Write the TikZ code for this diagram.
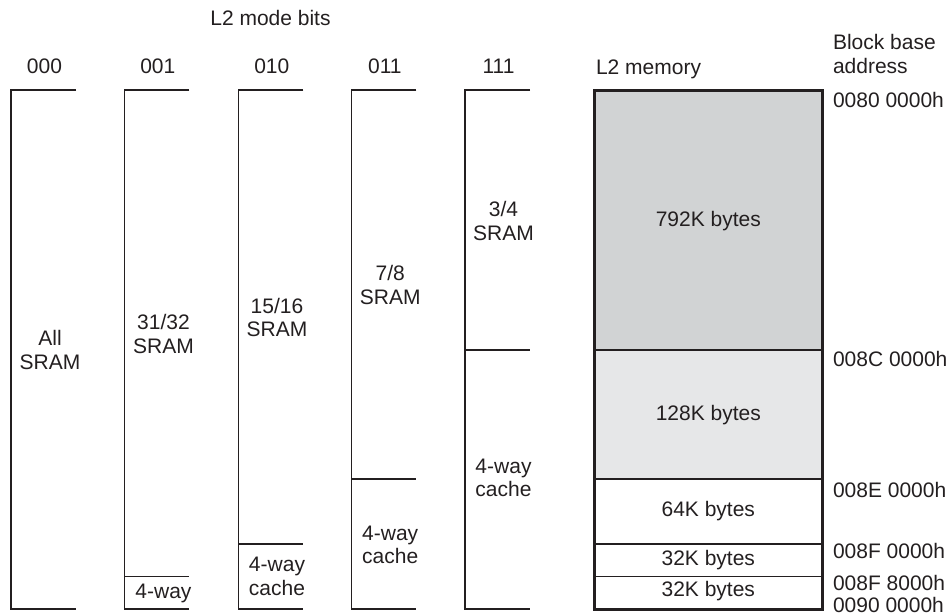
\documentclass[tikz,border=0pt]{standalone}
\usepackage{fontspec}
\setmainfont{Liberation Sans}
\definecolor{ink}{HTML}{231F20}
\definecolor{darkfill}{HTML}{D1D3D4}
\definecolor{lightfill}{HTML}{E6E7E8}
\begin{document}
\begin{tikzpicture}[x=1pt,y=-1pt,
  lbl/.style={inner sep=0pt,outer sep=0pt,text=ink,font=\fontsize{21}{24}\selectfont},
  thinline/.style={draw=ink,line width=1.3pt},
  thickline/.style={draw=ink,line width=3pt}]
\useasboundingbox (0,0) rectangle (948,615);

% ---- column outlines ----
\foreach \cx in {11,124.3,238.3,351.4,465}{
  \draw[thinline] (\cx+65,90) -- (\cx,90) -- (\cx,609) -- (\cx+65,609);
}
% dividers
\draw[thinline] (124.3,576.5) -- (189.3,576.5);
\draw[thinline] (238.3,544) -- (303.3,544);
\draw[thinline] (351.4,479) -- (416.4,479);
\draw[thinline] (465,350) -- (530,350);

% ---- L2 memory block ----
\fill[darkfill] (594,90.5) rectangle (822.5,350);
\fill[lightfill] (594,350) rectangle (822.5,479);
\draw[thinline] (594,350) -- (822.5,350);
\draw[thinline] (594,479) -- (822.5,479);
\draw[thinline] (594,544) -- (822.5,544);
\draw[thinline] (594,576.5) -- (822.5,576.5);
\draw[thickline] (594,90.5) rectangle (822.5,609.3);

% ---- headings ----
\node[lbl,anchor=base] (modebits) at (270.5,26) {L2 mode bits};
\node[lbl,anchor=base] (h000) at (44.5,74) {000};
\node[lbl,anchor=base] (h001) at (157.8,74) {001};
\node[lbl,anchor=base] (h010) at (271.8,74) {010};
\node[lbl,anchor=base] (h011) at (384.9,74) {011};
\node[lbl,anchor=base] (h111) at (498.5,74) {111};
\node[lbl,anchor=base west] (l2mem) at (596,75) {L2 memory};
\node[lbl,anchor=base west] (blk1) at (833,50) {Block base};
\node[lbl,anchor=base west] (blk2) at (833,74) {address};

% ---- column contents ----
\node[lbl,anchor=base] (c0a) at (50,345) {All};
\node[lbl,anchor=base] (c0b) at (50,369) {SRAM};
\node[lbl,anchor=base] (c1a) at (163.5,329.3) {31/32};
\node[lbl,anchor=base] (c1b) at (163.5,353.3) {SRAM};
\node[lbl,anchor=base] (c1c) at (163.5,598) {4-way};
\node[lbl,anchor=base] (c2a) at (277,313.3) {15/16};
\node[lbl,anchor=base] (c2b) at (277,336.7) {SRAM};
\node[lbl,anchor=base] (c2c) at (277,571.5) {4-way};
\node[lbl,anchor=base] (c2d) at (277,595) {cache};
\node[lbl,anchor=base] (c3a) at (390.2,280.7) {7/8};
\node[lbl,anchor=base] (c3b) at (390.2,304.3) {SRAM};
\node[lbl,anchor=base] (c3c) at (390.2,540) {4-way};
\node[lbl,anchor=base] (c3d) at (390.2,563) {cache};
\node[lbl,anchor=base] (c4a) at (503.5,216) {3/4};
\node[lbl,anchor=base] (c4b) at (503.5,240) {SRAM};
\node[lbl,anchor=base] (c4c) at (503.5,473.3) {4-way};
\node[lbl,anchor=base] (c4d) at (503.5,496.7) {cache};

% ---- memory block sizes ----
\node[lbl,anchor=base] (m1) at (708.3,226) {792K bytes};
\node[lbl,anchor=base] (m2) at (708.3,420) {128K bytes};
\node[lbl,anchor=base] (m3) at (708.3,516.7) {64K bytes};
\node[lbl,anchor=base] (m4) at (708.3,565) {32K bytes};
\node[lbl,anchor=base] (m5) at (708.3,596.7) {32K bytes};

% ---- addresses ----
\node[lbl,anchor=base west] (a1) at (833,108) {0080 0000h};
\node[lbl,anchor=base west] (a2) at (833,366) {008C 0000h};
\node[lbl,anchor=base west] (a3) at (833,497) {008E 0000h};
\node[lbl,anchor=base west] (a4) at (833,558.3) {008F 0000h};
\node[lbl,anchor=base west] (a5) at (833,590) {008F 8000h};
\node[lbl,anchor=base west] (a6) at (833,612) {0090 0000h};
\end{tikzpicture}
\end{document}
